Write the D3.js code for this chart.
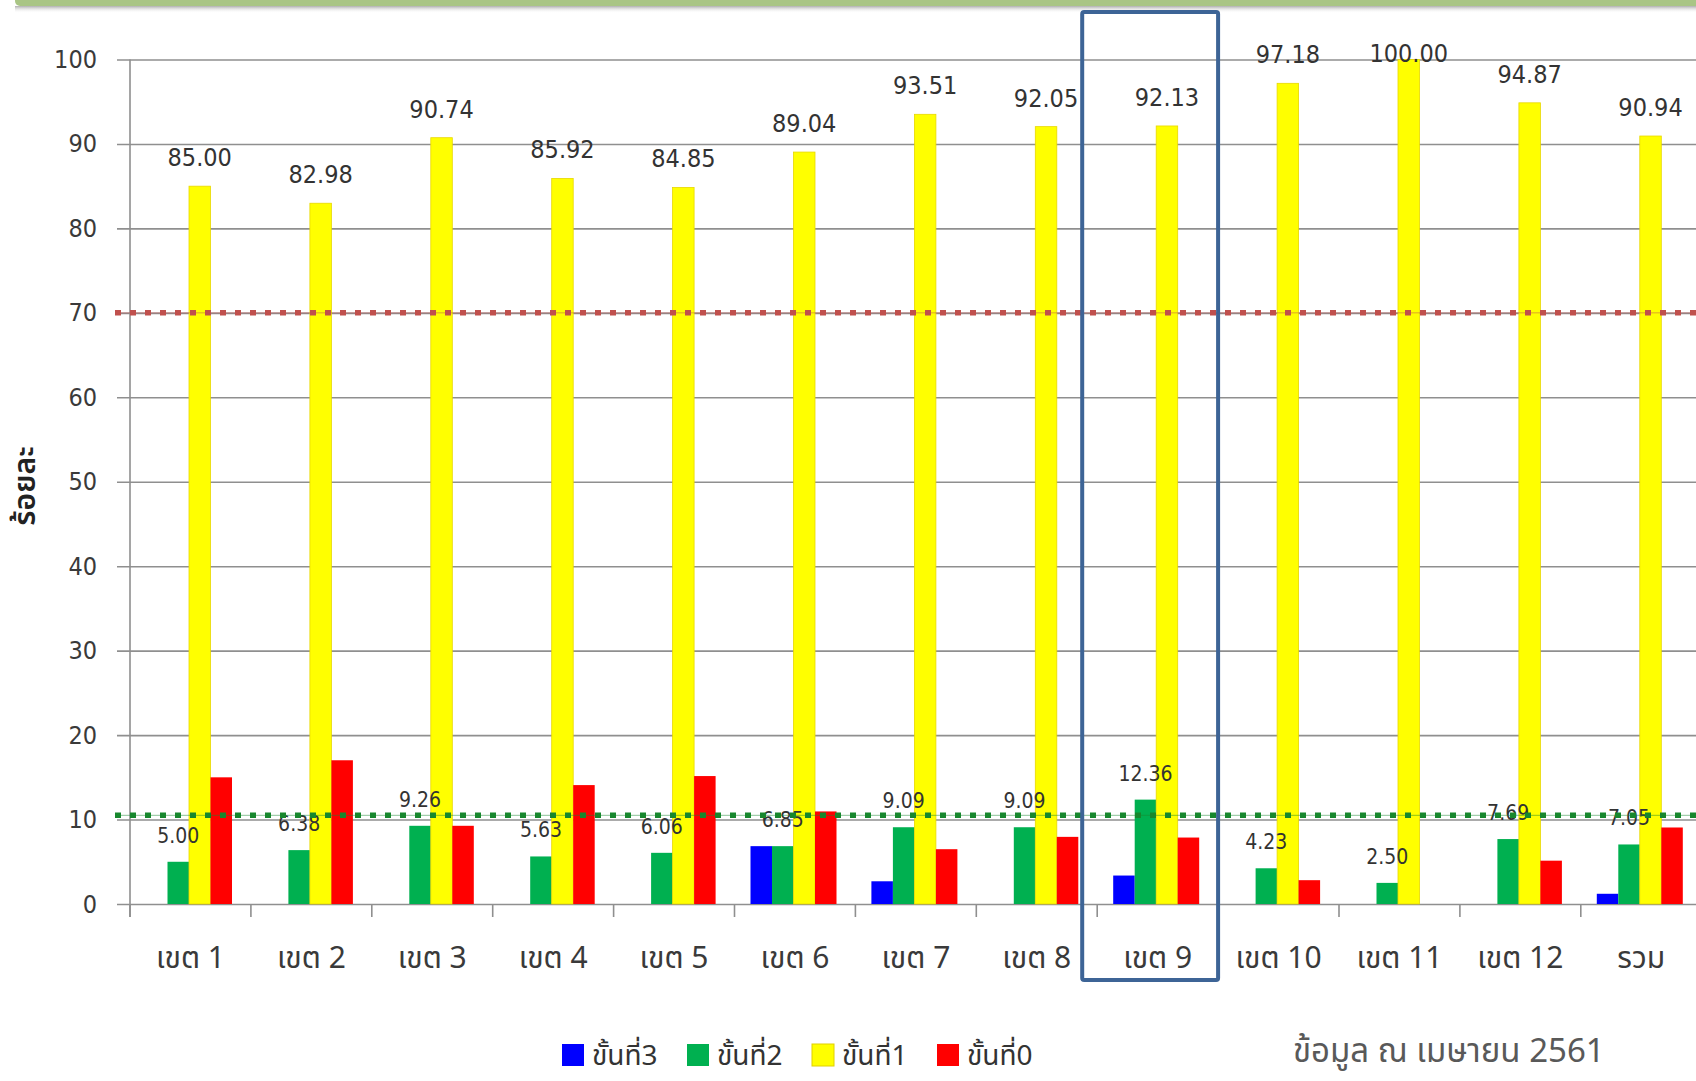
<!DOCTYPE html>
<html>
<head>
<meta charset="utf-8">
<script src="https://cdn.jsdelivr.net/npm/d3@7"></script>
<style>
  html, body { margin: 0; padding: 0; background: #fff; }
  svg { display: block; }
  text { font-family: "Noto Sans Thai", Tahoma, "DejaVu Sans Condensed", "DejaVu Sans", sans-serif; }
</style>
</head>
<body>
<div id="chart"></div>
<script>
// categories (health regions) and series values
const categories = ['เขต 1', 'เขต 2', 'เขต 3', 'เขต 4', 'เขต 5', 'เขต 6', 'เขต 7',
  'เขต 8', 'เขต 9', 'เขต 10', 'เขต 11', 'เขต 12', 'รวม'];
const seriesNames = ['ขั้นที่3', 'ขั้นที่2', 'ขั้นที่1', 'ขั้นที่0'];
const seriesColors = ['#0000ff', '#00b050', '#ffff00', '#ff0000'];
const stage3 = [0, 0, 0, 0, 0, 6.85, 2.69, 0, 3.37, 0, 0, 0, 1.21];
const stage2 = [5.00, 6.38, 9.26, 5.63, 6.06, 6.85, 9.09, 9.09, 12.36, 4.23, 2.50, 7.69, 7.05];
const stage1 = [85.00, 82.98, 90.74, 85.92, 84.85, 89.04, 93.51, 92.05, 92.13, 97.18, 100.00, 94.87, 90.94];
const stage0 = [15.00, 17.02, 9.26, 14.08, 15.15, 10.96, 6.49, 7.95, 7.87, 2.82, 0, 5.13, 9.06];
const yTicks = [0, 10, 20, 30, 40, 50, 60, 70, 80, 90, 100];
const targetRed = 70;     // red dotted target
const targetGreen = 10.5; // green dotted target
const highlighted = 'เขต 9';
const yTitle = 'ร้อยละ';
const note = 'ข้อมูล ณ เมษายน 2561';

const W = 1696, H = 1081;
const plotLeft = 130, bandW = 120.9;

const svg = d3.select('#chart').append('svg')
  .attr('width', W).attr('height', H);

// top decorative band
const defs = svg.append('defs');
const grad = defs.append('linearGradient').attr('id', 'shadow')
  .attr('x1', 0).attr('y1', 0).attr('x2', 0).attr('y2', 1);
grad.append('stop').attr('offset', '0%').attr('stop-color', '#9a9a9a').attr('stop-opacity', 0.8);
grad.append('stop').attr('offset', '100%').attr('stop-color', '#ffffff').attr('stop-opacity', 0);
svg.append('rect').attr('x', 15).attr('y', 6).attr('width', W - 15).attr('height', 7)
  .attr('fill', 'url(#shadow)');
svg.append('rect').attr('x', 15).attr('y', -6).attr('width', W).attr('height', 12)
  .attr('rx', 5).attr('fill', '#a9c585');

// build data table
const data = categories.map((c, i) => ({
  cat: c,
  values: [stage3[i], stage2[i], stage1[i], stage0[i]]
}));

// scales
const x0 = d3.scaleBand()
  .domain(categories)
  .range([plotLeft, plotLeft + bandW * categories.length]);
const x1 = d3.scaleBand()
  .domain(seriesNames)
  .range([16, 102]);
const y = d3.scaleLinear()
  .domain([0, 100])
  .range([904, 59.5]);

// gridlines + y tick labels
const yAxis = svg.append('g')
  .attr('transform', 'translate(117,0)')
  .call(d3.axisLeft(y).tickValues(yTicks).tickSizeInner(-(W - 117)).tickSizeOuter(0).tickPadding(20));
yAxis.select('.domain').remove();
yAxis.selectAll('line').attr('stroke', '#8f8f8f').attr('stroke-width', 1.6);
yAxis.selectAll('text')
  .style('font-size', '25px')
  .style('font-family', '"DejaVu Sans Condensed", "DejaVu Sans", sans-serif')
  .attr('fill', '#3a3a3a');

// x axis tick labels
const xAxis = svg.append('g')
  .attr('transform', 'translate(0,904)')
  .call(d3.axisBottom(x0).tickSize(0).tickPadding(0));
xAxis.select('.domain').remove();
xAxis.selectAll('text')
  .attr('y', 64).attr('dy', 0)
  .style('font-size', '30px')
  .attr('fill', '#3a3a3a');

// x axis boundary ticks
const bounds = categories.map(c => x0(c)).concat([x0.range()[1]]);
svg.append('g').selectAll('line')
  .data(bounds)
  .join('line')
  .attr('x1', d => d).attr('x2', d => d)
  .attr('y1', 904).attr('y2', 917)
  .attr('stroke', '#8f8f8f').attr('stroke-width', 1.6);

// y axis line
svg.append('line')
  .attr('x1', plotLeft).attr('x2', plotLeft)
  .attr('y1', y(100)).attr('y2', 917)
  .attr('stroke', '#8f8f8f').attr('stroke-width', 1.6);

// bars
const groups = svg.append('g').selectAll('g')
  .data(data)
  .join('g')
  .attr('transform', d => `translate(${x0(d.cat)},0)`);

groups.selectAll('rect')
  .data(d => d.values.map((v, i) => ({ key: seriesNames[i], value: v, color: seriesColors[i] })))
  .join('rect')
  .attr('x', d => x1(d.key))
  .attr('y', d => y(d.value))
  .attr('width', x1.bandwidth())
  .attr('height', d => y(0) - y(d.value))
  .attr('fill', d => d.color)
  .attr('stroke', d => d.key === 'ขั้นที่1' ? '#e8d800' : 'none')
  .attr('stroke-width', 0.8);

// target lines (dotted)
function targetLine(v, color) {
  svg.append('line')
    .attr('x1', 115).attr('x2', W)
    .attr('y1', y(v)).attr('y2', y(v))
    .attr('stroke', color).attr('stroke-width', 1).attr('stroke-opacity', 0.5);
  svg.append('line')
    .attr('x1', 115).attr('x2', W)
    .attr('y1', y(v)).attr('y2', y(v))
    .attr('stroke', color).attr('stroke-width', 5.5)
    .attr('stroke-dasharray', '6,9');
}
targetLine(targetRed, '#c0504d');
targetLine(targetGreen, '#17872d');

// value labels for ขั้นที่1 and ขั้นที่2 (kept inside the plot top like the original)
groups.append('text')
  .attr('x', d => x1('ขั้นที่1') + x1.bandwidth() / 2)
  .attr('y', d => Math.max(y(d.values[2]) - 20, 62))
  .attr('text-anchor', 'middle')
  .style('font-size', '25px')
  .style('font-family', '"DejaVu Sans Condensed", "DejaVu Sans", sans-serif')
  .attr('fill', '#333')
  .text(d => d.values[2].toFixed(2));

groups.append('text')
  .attr('x', d => x1('ขั้นที่2') + x1.bandwidth() / 2)
  .attr('y', d => y(d.values[1]) - 19)
  .attr('text-anchor', 'middle')
  .style('font-size', '21px')
  .style('font-family', '"DejaVu Sans Condensed", "DejaVu Sans", sans-serif')
  .attr('fill', '#333')
  .text(d => d.values[1].toFixed(2));

// y title
svg.append('text')
  .attr('transform', 'translate(35,486) rotate(-90)')
  .attr('text-anchor', 'middle')
  .style('font-size', '30px')
  .style('font-weight', '600')
  .attr('fill', '#222')
  .text(yTitle);

// highlight box around เขต 9
svg.append('rect')
  .attr('x', x0(highlighted) - 15)
  .attr('y', 12)
  .attr('width', x0.bandwidth() + 15)
  .attr('height', 968)
  .attr('rx', 2)
  .attr('fill', 'none')
  .attr('stroke', '#3d6496')
  .attr('stroke-width', 4);

// legend
const legend = svg.append('g').selectAll('g')
  .data(seriesNames)
  .join('g')
  .attr('transform', (d, i) => `translate(${562 + i * 125},1044)`);
legend.append('rect')
  .attr('width', 22).attr('height', 22)
  .attr('fill', (d, i) => seriesColors[i])
  .attr('stroke', (d, i) => i === 2 ? '#e0d000' : 'none');
legend.append('text')
  .attr('x', 30).attr('y', 21)
  .style('font-size', '28px')
  .attr('fill', '#333')
  .text(d => d);

// data note
svg.append('text')
  .attr('x', 1293).attr('y', 1062)
  .style('font-size', '33px')
  .attr('fill', '#595959')
  .text(note);
</script>
</body>
</html>
